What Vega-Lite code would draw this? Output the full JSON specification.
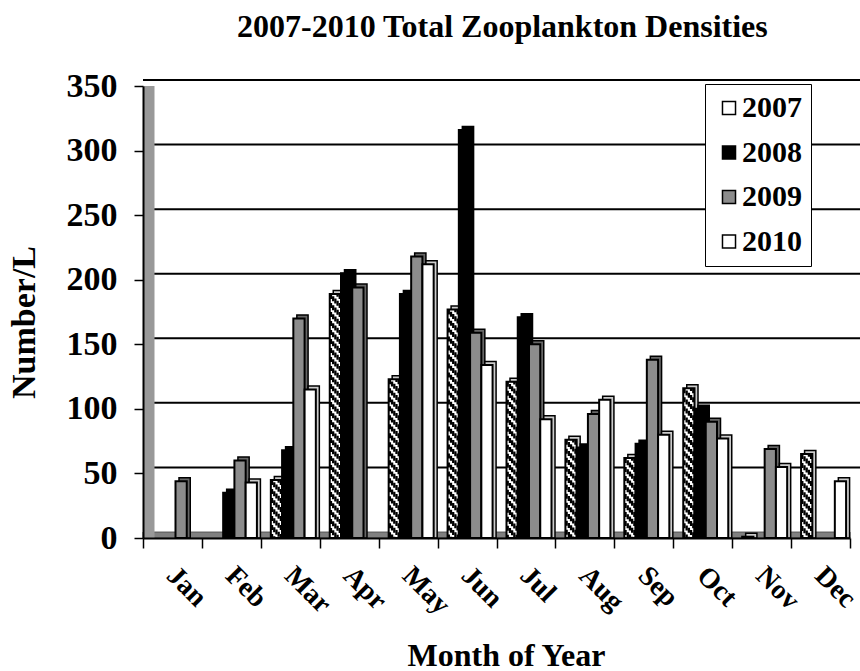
{
"$schema":"https://vega.github.io/schema/vega-lite/v6.json",
"autosize":{"type":"none"},
"padding":{"left":143,"top":86,"right":10,"bottom":133},
"width":707,"height":452,
"background":"white",
"title":{"text":"2007-2010 Total Zooplankton Densities","font":"Liberation Serif","fontWeight":"bold","fontSize":32,"color":"black","anchor":"start","frame":"bounds","dx":230,"dy":-25,"offset":0},
"config":{"view":{"stroke":null},"axis":{"grid":false}},
"resolve":{"scale":{"xOffset":"independent"}},
"datasets":{
"bars":[
{"Month":"Jan","Year":"2009","Density":44},
{"Month":"Feb","Year":"2008","Density":35},{"Month":"Feb","Year":"2009","Density":60},{"Month":"Feb","Year":"2010","Density":43},
{"Month":"Mar","Year":"2007","Density":45},{"Month":"Mar","Year":"2008","Density":68},{"Month":"Mar","Year":"2009","Density":170},{"Month":"Mar","Year":"2010","Density":115},
{"Month":"Apr","Year":"2007","Density":189},{"Month":"Apr","Year":"2008","Density":205},{"Month":"Apr","Year":"2009","Density":194},
{"Month":"May","Year":"2007","Density":123},{"Month":"May","Year":"2008","Density":189},{"Month":"May","Year":"2009","Density":218},{"Month":"May","Year":"2010","Density":212},
{"Month":"Jun","Year":"2007","Density":177},{"Month":"Jun","Year":"2008","Density":316},{"Month":"Jun","Year":"2009","Density":159},{"Month":"Jun","Year":"2010","Density":134},
{"Month":"Jul","Year":"2007","Density":121},{"Month":"Jul","Year":"2008","Density":171},{"Month":"Jul","Year":"2009","Density":150},{"Month":"Jul","Year":"2010","Density":92},
{"Month":"Aug","Year":"2007","Density":76},{"Month":"Aug","Year":"2008","Density":70},{"Month":"Aug","Year":"2009","Density":96},{"Month":"Aug","Year":"2010","Density":107},
{"Month":"Sep","Year":"2007","Density":62},{"Month":"Sep","Year":"2008","Density":73},{"Month":"Sep","Year":"2009","Density":138},{"Month":"Sep","Year":"2010","Density":80},
{"Month":"Oct","Year":"2007","Density":116},{"Month":"Oct","Year":"2008","Density":100},{"Month":"Oct","Year":"2009","Density":90},{"Month":"Oct","Year":"2010","Density":77},
{"Month":"Nov","Year":"2007","Density":1},{"Month":"Nov","Year":"2009","Density":69},{"Month":"Nov","Year":"2010","Density":55},
{"Month":"Dec","Year":"2007","Density":65},{"Month":"Dec","Year":"2010","Density":44}
],
"grid":[{"v":50},{"v":100},{"v":150},{"v":200},{"v":250},{"v":300},{"v":350}]
},
"data":{"name":"bars"},
"encoding":{
"x":{"field":"Month","type":"nominal","sort":null,
"scale":{"domain":["Jan","Feb","Mar","Apr","May","Jun","Jul","Aug","Sep","Oct","Nov","Dec"],"paddingInner":0,"paddingOuter":0},
"axis":{"zindex":1,"title":"Month of Year","titleFont":"Liberation Serif","titleFontWeight":"bold","titleFontSize":32,"titleColor":"black","titleAnchor":"middle","titleY":102,"titleX":363,
"labelFont":"Liberation Serif","labelFontWeight":"bold","labelFontSize":28,"labelColor":"black","labelAngle":45,"labelAlign":"left","labelBaseline":"middle","labelPadding":23,"labelOffset":-2,"labelOverlap":false,
"tickBand":"extent","tickColor":"black","tickWidth":1.5,"tickSize":10,"domainColor":"black","domainWidth":2}}
},
"layer":[
{"data":{"values":[{"a":1}]},"mark":{"type":"rect","fill":"#808080","stroke":"#555","strokeWidth":1},"encoding":{"x":null,"y":{"datum":0,"type":"quantitative","scale":{"domain":[0,350]}},"y2":{"datum":4.6}}},
{"data":{"name":"grid"},"mark":{"type":"rule","color":"black","strokeWidth":2,"yOffset":-6,"xOffset":12},"encoding":{"x":null,"y":{"field":"v","type":"quantitative"}}},
{"data":{"values":[{"a":1}]},"mark":{"type":"rule","color":"#999999","strokeWidth":11,"xOffset":6},"encoding":{"x":{"datum":"Jan","type":"nominal","bandPosition":0},"y":{"datum":0,"type":"quantitative"},"y2":{"datum":350}}},
{"mark":{"type":"bar","yOffset":-3.5,"stroke":"black","strokeWidth":1.5},"encoding":{"xOffset":{"field":"Year","type":"nominal","scale":{"domain":["2007","2008","2009","2010"],"range":[13.5,58.5]}},"y":{"field":"Density","type":"quantitative","stack":null},"fill":{"condition":[{"test":"datum.Year==='2008'","value":"black"},{"test":"datum.Year==='2009'","value":"#666"}],"value":"#ccc"}}},
{"mark":{"type":"bar","stroke":"black","strokeWidth":2},"encoding":{
"xOffset":{"field":"Year","type":"nominal","scale":{"domain":["2007","2008","2009","2010"],"range":[10,55]}},
"y":{"field":"Density","type":"quantitative","stack":null,
"axis":{"zindex":1,"title":"Number/L","titleFont":"Liberation Serif","titleFontWeight":"bold","titleFontSize":34,"titleColor":"black","titleX":-102,"titleY":236,"values":[0,50,100,150,200,250,300,350],
"labelFont":"Liberation Serif","labelFontWeight":"bold","labelFontSize":34,"labelColor":"black","labelPadding":17,"tickColor":"black","tickWidth":1.5,"tickSize":9,"domainColor":"black","domainWidth":2}},
"fill":{"field":"Year","type":"nominal","scale":{"domain":["2007","2008","2009","2010"],"range":["white","black","#8c8c8c","white"]},
"legend":{"orient":"none","legendX":562,"legendY":-2,"title":null,"fillColor":"white","strokeColor":"black","padding":9,"labelFont":"Liberation Serif","labelFontWeight":"bold","labelFontSize":30,"labelColor":"black","symbolType":"square","symbolSize":170,"rowPadding":14.5,"labelOffset":-2,
"encode":{"symbols":{"update":{"stroke":{"value":"black"},"strokeWidth":{"value":2.5}}}}}}
}},
{"transform":[{"filter":"datum.Year==='2007'"}],"mark":{"type":"rule","color":"black","strokeWidth":2.3,"strokeDash":[5,4],"strokeDashOffset":0},"encoding":{"xOffset":{"field":"Year","type":"nominal","scale":{"domain":["2007","2008","2009","2010"],"range":[5.6,50.6]}},"y":{"field":"Density","type":"quantitative","stack":null},"y2":{"datum":0}}},
{"transform":[{"filter":"datum.Year==='2007'"}],"mark":{"type":"rule","color":"black","strokeWidth":2.3,"strokeDash":[5,4],"strokeDashOffset":-2.25},"encoding":{"xOffset":{"field":"Year","type":"nominal","scale":{"domain":["2007","2008","2009","2010"],"range":[7.8,52.8]}},"y":{"field":"Density","type":"quantitative","stack":null},"y2":{"datum":0}}},
{"transform":[{"filter":"datum.Year==='2007'"}],"mark":{"type":"rule","color":"black","strokeWidth":2.3,"strokeDash":[5,4],"strokeDashOffset":-4.5},"encoding":{"xOffset":{"field":"Year","type":"nominal","scale":{"domain":["2007","2008","2009","2010"],"range":[10,55]}},"y":{"field":"Density","type":"quantitative","stack":null},"y2":{"datum":0}}},
{"transform":[{"filter":"datum.Year==='2007'"}],"mark":{"type":"rule","color":"black","strokeWidth":2.3,"strokeDash":[5,4],"strokeDashOffset":-6.75},"encoding":{"xOffset":{"field":"Year","type":"nominal","scale":{"domain":["2007","2008","2009","2010"],"range":[12.2,57.2]}},"y":{"field":"Density","type":"quantitative","stack":null},"y2":{"datum":0}}},
{"transform":[{"filter":"datum.Year==='2007'"}],"mark":{"type":"rule","color":"black","strokeWidth":2.3,"strokeDash":[5,4],"strokeDashOffset":-9},"encoding":{"xOffset":{"field":"Year","type":"nominal","scale":{"domain":["2007","2008","2009","2010"],"range":[14.4,59.4]}},"y":{"field":"Density","type":"quantitative","stack":null},"y2":{"datum":0}}}
]
}
